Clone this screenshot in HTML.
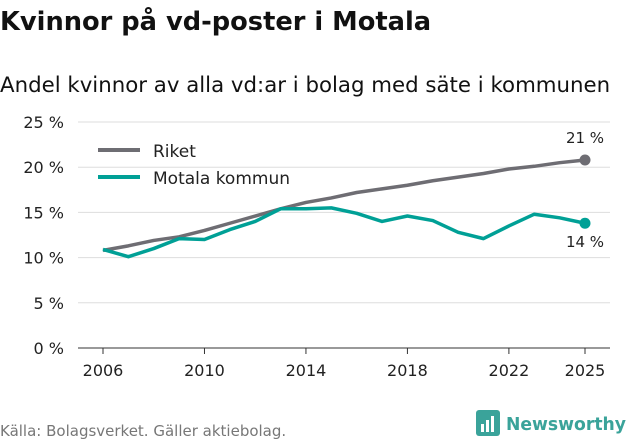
<!DOCTYPE html>
<html><head><meta charset="utf-8">
<style>
body{margin:0;background:#fff;font-family:"DejaVu Sans","Liberation Sans",sans-serif;}
svg text{font-family:"DejaVu Sans","Liberation Sans",sans-serif;}
</style></head>
<body>
<svg width="631" height="439" viewBox="0 0 631 439">
<text x="0" y="30" font-size="25.7" font-weight="bold" fill="#111">Kvinnor på vd-poster i Motala</text>
<text x="0" y="92" font-size="21.3" fill="#111">Andel kvinnor av alla vd:ar i bolag med säte i kommunen</text>
<g id="grid"></g>
<g id="xaxis"></g>
<g id="series"></g>
<g>
<line x1="98" y1="150" x2="140" y2="150" stroke="#6e6d73" stroke-width="4"/>
<text x="153" y="157" font-size="17" fill="#222">Riket</text>
<line x1="98" y1="177" x2="140" y2="177" stroke="#00a096" stroke-width="4"/>
<text x="153" y="184" font-size="17" fill="#222">Motala kommun</text>
</g>
<text x="0" y="436" font-size="15" fill="#777">Källa: Bolagsverket. Gäller aktiebolag.</text>
<g>
<rect x="476" y="410" width="24" height="26" rx="3" fill="#3aa39a"/>
<rect x="481" y="424" width="3" height="8" fill="#fff"/><rect x="486" y="420" width="3" height="12" fill="#fff"/><rect x="491" y="416" width="3" height="16" fill="#fff"/>
<text x="506" y="430" font-size="18" font-weight="bold" fill="#3aa39a" textLength="120" lengthAdjust="spacingAndGlyphs">Newsworthy</text>
</g>
</svg>
<script>
const years=[2006,2007,2008,2009,2010,2011,2012,2013,2014,2015,2016,2017,2018,2019,2020,2021,2022,2023,2024,2025];
const riket=[10.8,11.3,11.9,12.3,13.0,13.8,14.6,15.4,16.1,16.6,17.2,17.6,18.0,18.5,18.9,19.3,19.8,20.1,20.5,20.8];
const motala=[10.9,10.1,11.0,12.1,12.0,13.1,14.0,15.4,15.4,15.5,14.9,14.0,14.6,14.1,12.8,12.1,13.5,14.8,14.4,13.8];
const yTicks=[0,5,10,15,20,25];
const xTicks=[2006,2010,2014,2018,2022,2025];
const NS="http://www.w3.org/2000/svg";
const x=v=>103+(v-2006)*(585-103)/19;
const y=v=>348-v*(348-122)/25;
function mk(tag,attrs,parent){const e=document.createElementNS(NS,tag);for(const k in attrs)e.setAttribute(k,attrs[k]);parent.appendChild(e);return e;}
const grid=document.getElementById('grid');
yTicks.forEach(t=>{
  const l=mk('line',{x1:78,x2:610,y1:y(t),y2:y(t),stroke:t===0?'#333':'#ddd','stroke-width':1},grid);
  
  
  const tx=mk('text',{x:64,y:y(t)+6,'font-size':16,fill:'#222','text-anchor':'end'},grid);
  tx.textContent=t+' %';
  
  
});
const xa=document.getElementById('xaxis');
xTicks.forEach(t=>{
  const l=mk('line',{x1:x(t),x2:x(t),y1:348,y2:354,stroke:'#333'},xa);
  
  
  const tx=mk('text',{x:x(t),y:376,'font-size':16,fill:'#222','text-anchor':'middle'},xa);
  tx.textContent=t;
  
  
});
const sg=document.getElementById('series');
function draw(vals,color,name,labelDy){
  const p=mk('polyline',{points:vals.map((v,i)=>x(years[i])+','+y(v)).join(' '),fill:'none',stroke:color,'stroke-width':3.5,'stroke-linejoin':'round'},sg);
  
  
  const n=vals.length-1;
  const c=mk('circle',{cx:x(years[n]),cy:y(vals[n]),r:5.5,fill:color},sg);
  
  
  const t=mk('text',{x:x(years[n]),y:y(vals[n])+labelDy,'font-size':15,fill:'#222','text-anchor':'middle'},sg);
  t.textContent=Math.round(vals[n])+' %';
  
  
}
draw(riket,'#6e6d73','riket',-17);
draw(motala,'#00a096','motala',24);
</script>
</body></html>
